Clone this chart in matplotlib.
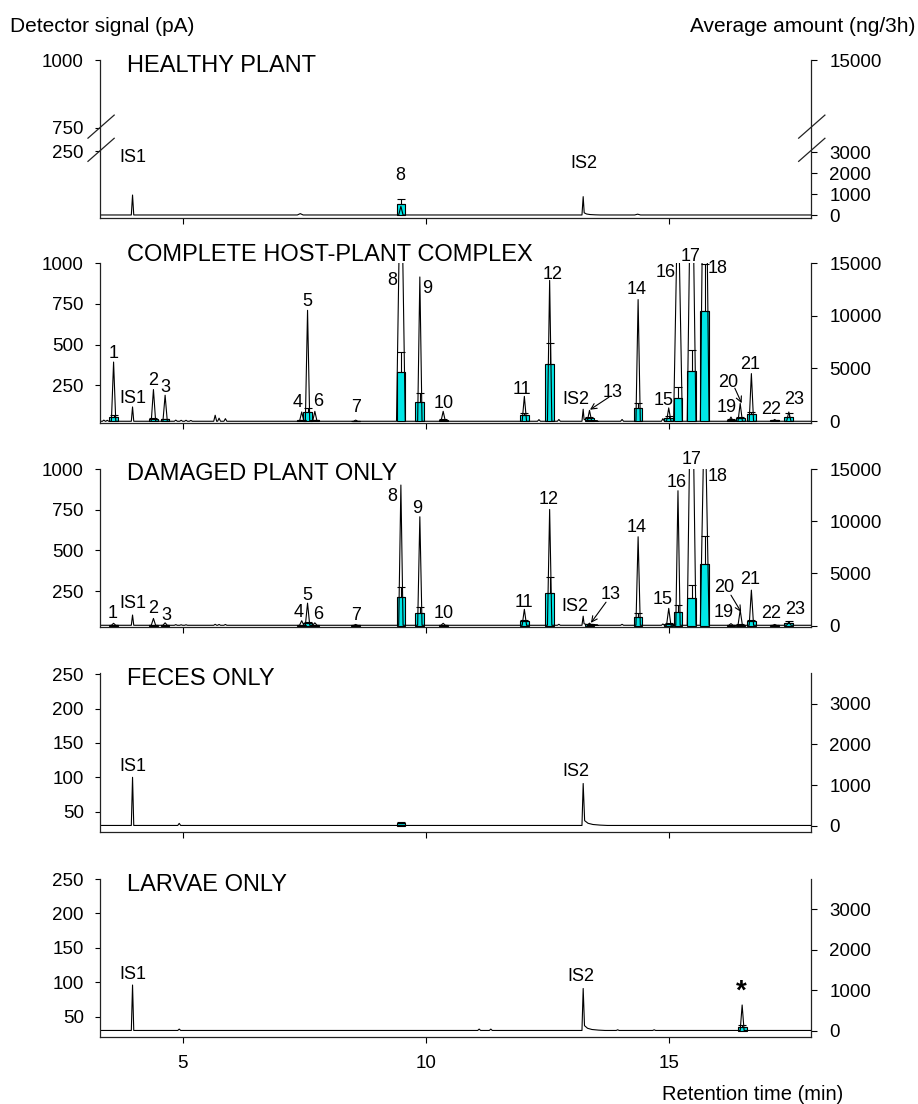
import numpy as np
import matplotlib
matplotlib.use('Agg')
from matplotlib import pyplot as plt

plt.rcParams['font.family'] = ['Liberation Sans', 'DejaVu Sans']

# retention times (min) of compounds 1-23 and the two internal standards
compound_rt = [3.58, 4.40, 4.64, 7.45, 7.57, 7.72, 8.56, 9.49, 9.88, 10.36, 12.03, 12.55,
               13.37, 14.37, 15.00, 15.19, 15.47, 15.74, 16.28, 16.47, 16.70, 17.18, 17.47]
standard_rt = [3.97, 13.24]

# healthy plant
healthy_base = 13
healthy_is_pa = [87, 81]
healthy_peak_rt = [9.49]
healthy_peak_pa = [45]
healthy_bar_rt = [9.49]
healthy_amount = [524]
healthy_err = [226]
healthy_minor_rt = [7.42, 14.36]
healthy_minor_pa = [18, 16]

# complete host-plant complex
complex_base = 29
complex_is_pa = [117, 103]
complex_peak_pa = [393, 224, 189, 86, 711, 90, 36, 1800, 916, 90, 182, 895,
                   96, 777, 111, 1500, 2000, 2500, 55, 138, 322, 40, 86]
complex_amount = [350, 190, 150, 60, 830, 60, 30, 4700, 1850, 100, 570, 5400,
                  255, 1200, 316, 2200, 4800, 10500, 100, 250, 635, 60, 350]
complex_err = [200, 80, 80, 30, 380, 30, 20, 1900, 800, 60, 220, 2000,
               100, 480, 150, 1000, 1950, 4400, 60, 100, 255, 40, 380]
complex_minor_rt = [3.38, 3.45, 4.86, 4.97, 5.07, 5.17, 5.67, 5.75, 5.88, 12.33, 12.74, 14.04, 14.88]
complex_minor_pa = [36, 35, 36, 35, 35, 34, 66, 48, 45, 39, 40, 40, 45]

# damaged plant only
damaged_base = 40
damaged_is_pa = [103, 96]
damaged_peak_pa = [52, 82, 55, 68, 176, 55, 45, 902, 707, 52, 138, 752,
                   53, 584, 144, 867, 2000, 1500, 50, 133, 256, 45, 60]
damaged_amount = [30, 40, 30, 30, 290, 30, 20, 2780, 1244, 40, 420, 3100,
                  150, 804, 150, 1340, 2680, 5880, 40, 100, 420, 40, 300]
damaged_err = [20, 20, 20, 20, 100, 20, 15, 950, 580, 30, 150, 1590,
               60, 440, 100, 640, 1220, 2710, 20, 50, 150, 20, 150]
damaged_minor_rt = [4.86, 4.97, 5.07, 5.67, 5.75, 5.88, 12.74, 14.04, 14.88]
damaged_minor_pa = [44, 43, 43, 46, 45, 45, 46, 46, 48]

# feces only
feces_base = 30
feces_is_pa = [100, 91]
feces_bar_rt = [9.49]
feces_amount = [65]
feces_err = [40]
feces_minor_rt = [4.93]
feces_minor_pa = [33]

# larvae only
larvae_base = 30
larvae_is_pa = [96, 91]
larvae_peak_rt = [16.51]
larvae_peak_pa = [67]
larvae_bar_rt = [16.51]
larvae_amount = [85]
larvae_err = [55]
larvae_minor_rt = [4.93, 11.10, 11.34, 13.95, 14.70]
larvae_minor_pa = [32, 32, 32, 31, 31]

XLIM = (3.30, 17.92)
BAR_COLOR = '#00e6e6'
TICK_FS = 13.5
LABEL_FS = 13
TITLE_FS = 17

# relative shape of the IS2 tailing: (fraction of tail length, fraction of tail height)
TAIL_STEPS = [(0.06, 1.0), (0.2, 0.45), (0.4, 0.2), (0.7, 0.07), (1.0, 0.0)]


def build_trace(base, peaks, tail=None):
    """Chromatogram polyline: each peak is (rt, apex, half width)."""
    xs, ys = [XLIM[0]], [base]
    for rt, top, half in sorted(peaks):
        xs += [rt - half, rt]
        ys += [base, top]
        if tail is not None and abs(rt - standard_rt[1]) < 1e-6:
            for fx, fy in TAIL_STEPS:
                xs.append(rt + fx * tail[1])
                ys.append(base + fy * tail[0])
        else:
            xs.append(rt + half)
            ys.append(base)
    xs.append(XLIM[1])
    ys.append(base)
    return xs, ys


def peak_list(rts, heights, half=0.045):
    return [(r, h, 0.09 if h > 1000 else half) for r, h in zip(rts, heights)]


def style_axes(ax, twin, show_xlabels=False):
    ax.set_xlim(*XLIM)
    ax.set_xticks([5, 10, 15])
    ax.tick_params(axis='x', direction='out', length=4, width=0.8, pad=9,
                   labelsize=TICK_FS, labelbottom=show_xlabels)
    ax.tick_params(axis='y', direction='out', length=3.5, width=0.8, pad=8,
                   labelsize=TICK_FS)
    twin.tick_params(axis='y', direction='out', length=4.5, width=0.8, pad=9,
                     labelsize=TICK_FS)
    for a in (ax, twin):
        a.spines['top'].set_visible(False)
        for s in a.spines.values():
            s.set_linewidth(0.9)
            s.set_color('#222222')
    ax.spines['right'].set_visible(False)
    twin.spines['left'].set_visible(False)
    twin.spines['bottom'].set_visible(False)
    ax.set_zorder(twin.get_zorder() + 1)
    ax.patch.set_visible(False)


def draw_bars(twin, rts, amounts, errs):
    twin.bar(rts, amounts, width=0.18, color=BAR_COLOR, edgecolor='black',
             linewidth=0.8, zorder=2)
    twin.errorbar(rts, amounts, yerr=[np.zeros(len(errs)), errs], fmt='none',
                  ecolor='black', elinewidth=0.8, capsize=2.8, capthick=0.8, zorder=3)


def draw_labels(ax, labels, arrows=()):
    for txt, x, y in labels:
        ax.text(x, y, txt, ha='center', va='center', fontsize=LABEL_FS)
    for tail, tip in arrows:
        ax.annotate('', xy=tip, xytext=tail,
                    arrowprops=dict(arrowstyle='->', lw=0.8, color='black',
                                    shrinkA=0, shrinkB=0))


def panel_title(ax, title, y):
    ax.text(0.038, y, title, transform=ax.transAxes, ha='left', va='center',
            fontsize=TITLE_FS)


# panel layout in figure fraction
LEFT, WIDTH = 0.1089, 0.7742
panel_rects = [(0.8021, 0.1431), (0.6171, 0.1444), (0.4323, 0.1428),
               (0.2467, 0.1433), (0.0610, 0.1428)]

fig = plt.figure(figsize=(9.18, 11.04), dpi=100)
axes = [fig.add_axes([LEFT, b, WIDTH, h]) for b, h in panel_rects]
twins = [ax.twinx() for ax in axes]

# ---- healthy plant: broken y axes (250-750 pA squeezed) ----
L_IN = [-1e4, 250, 750, 1e5]
L_OUT = [-1e4, 250, 336, 336 + 1e5 - 750]
R_IN = [-1e5, 3000, 11250, 1e6]
R_OUT = [13 - 1e5 * 0.0777, 246, 336, 336 + (1e6 - 11250) / 15]


def left_fwd(v):
    return np.interp(v, L_IN, L_OUT)


def left_inv(v):
    return np.interp(v, L_OUT, L_IN)


def right_fwd(v):
    return np.interp(v, R_IN, R_OUT)


def right_inv(v):
    return np.interp(v, R_OUT, R_IN)


ax, tw = axes[0], twins[0]
ax.set_yscale('function', functions=(left_fwd, left_inv))
tw.set_yscale('function', functions=(right_fwd, right_inv))
peaks = (peak_list(standard_rt, healthy_is_pa, 0.025)
         + peak_list(healthy_peak_rt, healthy_peak_pa)
         + peak_list(healthy_minor_rt, healthy_minor_pa, 0.06))
xs, ys = build_trace(healthy_base, peaks, tail=(8, 0.35))
ax.plot(xs, ys, color='black', lw=0.8)
draw_bars(tw, healthy_bar_rt, healthy_amount, healthy_err)
ax.set_ylim(0, 1000)
ax.set_yticks([250, 750, 1000])
tw.set_ylim(float(right_inv(0)), 15000)
tw.set_yticks([0, 1000, 2000, 3000, 15000])
style_axes(ax, tw)
draw_labels(ax, [('IS1', 3.97, 228), ('8', 9.48, 161), ('IS2', 13.26, 205)])
panel_title(ax, 'HEALTHY PLANT', 0.967)
for xb in (0.0, 1.0):
    for yb in (336 / 586, 250 / 586):
        ax.plot([xb - 0.0169, xb + 0.0200], [yb - 0.0650, yb + 0.0810],
                transform=ax.transAxes, color='#222222', lw=0.9, clip_on=False)

# ---- complete host-plant complex ----
ax, tw = axes[1], twins[1]
peaks = (peak_list(standard_rt, complex_is_pa, 0.025)
         + peak_list(compound_rt, complex_peak_pa)
         + peak_list(complex_minor_rt, complex_minor_pa, 0.03))
xs, ys = build_trace(complex_base, peaks, tail=(12, 0.3))
ax.plot(xs, ys, color='black', lw=0.8)
draw_bars(tw, compound_rt, complex_amount, complex_err)
ax.set_ylim(20, 1000)
ax.set_yticks([250, 500, 750, 1000])
tw.set_ylim(-160, 15000)
tw.set_yticks([0, 5000, 10000, 15000])
style_axes(ax, tw)
complex_labels = [('1', 3.58, 447), ('IS1', 3.97, 170), ('2', 4.40, 281), ('3', 4.64, 238),
                  ('4', 7.36, 146), ('5', 7.56, 766), ('6', 7.79, 152), ('7', 8.57, 115),
                  ('8', 9.31, 895), ('9', 10.03, 846), ('10', 10.38, 140), ('11', 11.98, 226),
                  ('12', 12.62, 932), ('IS2', 13.09, 164), ('13', 13.85, 207), ('14', 14.34, 840),
                  ('15', 14.90, 158), ('16', 14.94, 945), ('17', 15.45, 1043), ('18', 16.01, 969),
                  ('19', 16.19, 115), ('20', 16.23, 269), ('21', 16.68, 380), ('22', 17.11, 103),
                  ('23', 17.58, 164)]
draw_labels(ax, complex_labels,
            arrows=[((13.77, 177), (13.38, 100)), ((16.36, 232), (16.50, 140))])
panel_title(ax, 'COMPLETE HOST-PLANT COMPLEX', 1.049)

# ---- damaged plant only ----
ax, tw = axes[2], twins[2]
peaks = (peak_list(standard_rt, damaged_is_pa, 0.025)
         + peak_list(compound_rt, damaged_peak_pa)
         + peak_list(damaged_minor_rt, damaged_minor_pa, 0.03))
xs, ys = build_trace(damaged_base, peaks, tail=(10, 0.3))
ax.plot(xs, ys, color='black', lw=0.8)
draw_bars(tw, compound_rt, damaged_amount, damaged_err)
ax.set_ylim(31, 1000)
ax.set_yticks([250, 500, 750, 1000])
tw.set_ylim(-100, 15000)
tw.set_yticks([0, 5000, 10000, 15000])
style_axes(ax, tw)
damaged_labels = [('1', 3.56, 115), ('IS1', 3.97, 176), ('2', 4.40, 145), ('3', 4.66, 103),
                  ('4', 7.38, 121), ('5', 7.56, 226), ('6', 7.79, 108), ('7', 8.57, 103),
                  ('8', 9.31, 834), ('9', 9.83, 760), ('10', 10.38, 115), ('11', 12.02, 183),
                  ('12', 12.53, 816), ('IS2', 13.07, 158), ('13', 13.81, 232), ('14', 14.34, 644),
                  ('15', 14.88, 201), ('16', 15.16, 920), ('17', 15.47, 1061), ('18', 16.01, 957),
                  ('19', 16.13, 121), ('20', 16.15, 275), ('21', 16.68, 324), ('22', 17.11, 115),
                  ('23', 17.61, 139)]
draw_labels(ax, damaged_labels,
            arrows=[((13.71, 182), (13.40, 55)), ((16.28, 225), (16.49, 121))])
panel_title(ax, 'DAMAGED PLANT ONLY', 0.968)

# ---- feces only ----
ax, tw = axes[3], twins[3]
peaks = (peak_list(standard_rt, feces_is_pa, 0.025)
         + peak_list(feces_minor_rt, feces_minor_pa, 0.03))
xs, ys = build_trace(feces_base, peaks, tail=(7, 0.5))
ax.plot(xs, ys, color='black', lw=0.8)
draw_bars(tw, feces_bar_rt, feces_amount, feces_err)
ax.set_ylim(21, 251)
ax.set_yticks([50, 100, 150, 200, 250])
tw.set_ylim(-139, 3740)
tw.set_yticks([0, 1000, 2000, 3000])
style_axes(ax, tw)
draw_labels(ax, [('IS1', 3.97, 116), ('IS2', 13.09, 109)])
panel_title(ax, 'FECES ONLY', 0.962)

# ---- larvae only ----
ax, tw = axes[4], twins[4]
peaks = (peak_list(standard_rt, larvae_is_pa, 0.025)
         + peak_list(larvae_peak_rt, larvae_peak_pa, 0.04)
         + peak_list(larvae_minor_rt, larvae_minor_pa, 0.03))
xs, ys = build_trace(larvae_base, peaks, tail=(7, 0.45))
ax.plot(xs, ys, color='black', lw=0.8)
draw_bars(tw, larvae_bar_rt, larvae_amount, larvae_err)
ax.set_ylim(21, 250)
ax.set_yticks([50, 100, 150, 200, 250])
tw.set_ylim(-148, 3748)
tw.set_yticks([0, 1000, 2000, 3000])
style_axes(ax, tw, show_xlabels=True)
draw_labels(ax, [('IS1', 3.97, 111), ('IS2', 13.19, 108)])
ax.text(16.50, 86, '*', ha='center', va='center', fontsize=20, fontweight='bold')
panel_title(ax, 'LARVAE ONLY', 0.965)

fig.text(10 / 918, 1 - 26 / 1104, 'Detector signal (pA)', ha='left', va='center', fontsize=15)
fig.text(915 / 918, 1 - 26 / 1104, 'Average amount (ng/3h)', ha='right', va='center', fontsize=15)
fig.text(843 / 918, 1 - 1095 / 1104, 'Retention time (min)', ha='right', va='center', fontsize=14.5)

fig.savefig('out.png', dpi=100)
